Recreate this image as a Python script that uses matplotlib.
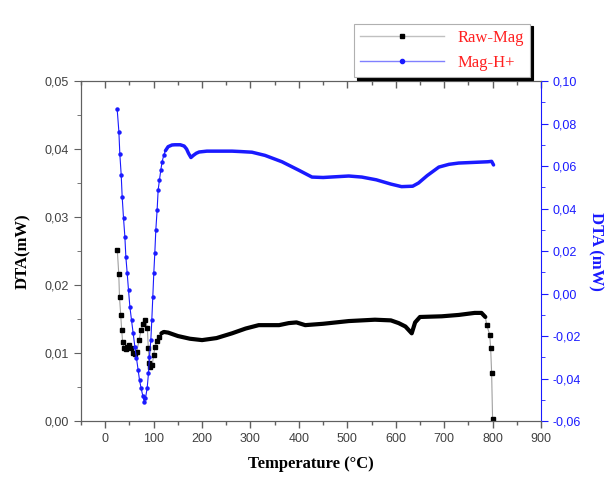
import numpy as np
import matplotlib.pyplot as plt
from matplotlib.lines import Line2D
from matplotlib.ticker import MultipleLocator, FuncFormatter

# Raw-Mag (eje izquierdo)
t_raw = [25, 28, 29.5, 32, 34, 36, 39, 43, 46, 49, 53, 57, 61, 65, 70, 74, 78, 83, 87,
         89, 91, 93, 97, 100, 103, 107, 111, 116, 121, 130, 150, 175, 200, 230, 262,
         290, 317, 359, 379, 395, 413, 450, 503, 557, 590, 606, 620, 633, 640, 650,
         695, 730, 763, 777, 785, 788, 794, 796, 798, 800]
dta_raw = [0.0251, 0.0216, 0.0182, 0.0156, 0.0134, 0.0116, 0.0107, 0.0106, 0.0109,
           0.0112, 0.0108, 0.0100, 0.0099, 0.0102, 0.0119, 0.0134, 0.0143, 0.0149,
           0.0137, 0.0107, 0.0085, 0.0079, 0.0082, 0.0097, 0.0109, 0.0118, 0.0124,
           0.0129, 0.0131, 0.0130, 0.0125, 0.0121, 0.0119, 0.0122, 0.0129, 0.0136,
           0.0141, 0.0141, 0.0144, 0.0145, 0.0141, 0.0143, 0.0147, 0.0149, 0.0148,
           0.0144, 0.0139, 0.0129, 0.0145, 0.0153, 0.0154, 0.0156, 0.0159, 0.0159,
           0.0153, 0.0141, 0.0127, 0.0107, 0.0071, 0.0003]

# Mag-H+ (eje derecho)
t_mag = [24.7, 28.2, 30.2, 33, 35, 37.8, 40.6, 42.6, 45.4, 48.1, 50.9, 54.3, 57.7,
         61.2, 64.6, 68, 70.8, 74.2, 77.7, 80.4, 83.1, 86.6, 89.3, 91.4, 94.2, 96.2,
         98.3, 100.3, 102.4, 104.5, 107.2, 109.3, 112, 114.8, 117.5, 121, 124.4,
         129.9, 138, 144, 155, 163, 168, 172, 177, 182, 188, 194, 210, 230, 262,
         280, 303, 330, 365, 400, 427, 450, 480, 503, 530, 560, 590, 612, 635, 647,
         665, 689, 710, 730, 760, 790, 798, 802]
dta_mag = [0.0867, 0.0762, 0.0656, 0.0558, 0.0456, 0.0354, 0.0267, 0.0173, 0.0095,
           0.0016, -0.0062, -0.0125, -0.0187, -0.0250, -0.0305, -0.0360, -0.0407,
           -0.0446, -0.0482, -0.0509, -0.0493, -0.0446, -0.0376, -0.0297, -0.0219,
           -0.0125, -0.0015, 0.0095, 0.0189, 0.0299, 0.0393, 0.0487, 0.0534, 0.0581,
           0.0620, 0.0652, 0.0672, 0.0691, 0.0699, 0.0700, 0.0700, 0.0694, 0.0680,
           0.0660, 0.0640, 0.0650, 0.0660, 0.0666, 0.0670, 0.0670, 0.0670, 0.0668,
           0.0665, 0.0650, 0.0620, 0.0580, 0.0548, 0.0546, 0.0550, 0.0553, 0.0548,
           0.0535, 0.0515, 0.0503, 0.0505, 0.0520, 0.0555, 0.0595, 0.0608, 0.0614,
           0.0617, 0.0620, 0.0622, 0.0605]

t_raw = np.array(t_raw)
dta_raw = np.array(dta_raw)
t_mag = np.array(t_mag)
dta_mag = np.array(dta_mag)

frame = '#606060'
blue = '#1a1aff'


def comma(v, pos):
    return f"{v:.2f}".replace('.', ',')


fig = plt.figure(figsize=(6.1, 4.78), dpi=100)
ax = fig.add_axes([0.1328, 0.1192, 0.7541, 0.7113])
ax2 = ax.twinx()

# Raw-Mag: puntos sueltos en las zonas rapidas, trazo grueso en la zona densa
m = (t_raw >= 114) & (t_raw <= 786)
ax.plot(t_raw, dta_raw, '-', color='#a0a0a0', lw=0.8, marker='s', ms=3.2,
        mfc='black', mec='black', markevery=list(np.where(~m)[0]))
ax.plot(t_raw[m], dta_raw[m], '-', color='black', lw=3, solid_capstyle='round')

# Mag-H+
m2 = t_mag >= 124
ax2.plot(t_mag, dta_mag, '-', color=blue, lw=0.8, marker='o', ms=2.2,
         mfc=blue, mec=blue, markevery=list(np.where(~m2)[0]))
ax2.plot(t_mag[m2], dta_mag[m2], '-', color=blue, lw=2.5, solid_capstyle='round')

ax.set_xlim(-50, 900)
ax.set_ylim(0, 0.05)
ax2.set_ylim(-0.06, 0.10)

ax.set_xticks(np.arange(0, 901, 100))
ax.xaxis.set_minor_locator(MultipleLocator(50))
ax.yaxis.set_major_locator(MultipleLocator(0.01))
ax.yaxis.set_minor_locator(MultipleLocator(0.005))
ax.yaxis.set_major_formatter(FuncFormatter(comma))
ax2.yaxis.set_major_locator(MultipleLocator(0.02))
ax2.yaxis.set_minor_locator(MultipleLocator(0.01))
ax2.yaxis.set_major_formatter(FuncFormatter(comma))

for s in ['left', 'bottom', 'top']:
    ax.spines[s].set_color(frame)
    ax2.spines[s].set_color(frame)
ax.spines['right'].set_visible(False)
ax2.spines['right'].set_color(blue)

# marcas: abajo hacia fuera, arriba hacia dentro (inout recortado por el borde)
ax.tick_params(axis='x', which='both', direction='out', color=frame,
               labelcolor='#404040', labelsize=9, top=True, labeltop=False)
ax.tick_params(axis='x', which='major', length=5, width=1)
ax.tick_params(axis='x', which='minor', length=3, width=1)
for t in ax.xaxis.get_major_ticks() + ax.xaxis.get_minor_ticks():
    t.tick2line.set_marker(3)  # TICKDOWN: hacia dentro en el borde superior

ax.tick_params(axis='y', which='both', direction='out', color=frame,
               labelcolor='#404040', labelsize=9)
ax.tick_params(axis='y', which='major', length=5)
ax.tick_params(axis='y', which='minor', length=3)
ax2.tick_params(axis='y', which='both', direction='out', color=blue,
                labelcolor=blue, labelsize=9)
ax2.tick_params(axis='y', which='major', length=5)
ax2.tick_params(axis='y', which='minor', length=3)

for lab in ax.get_xticklabels() + ax.get_yticklabels() + ax2.get_yticklabels():
    lab.set_family('Liberation Sans')

ax.set_xlabel('Temperature (°C)', family='Liberation Serif', fontweight='bold',
              fontsize=12, labelpad=8)
ax.set_ylabel('DTA(mW)', family='Liberation Serif', fontweight='bold',
              fontsize=12, labelpad=10)
ax2.set_ylabel('DTA (mW)', family='Liberation Serif', fontweight='bold',
               fontsize=12, color=blue, rotation=270, labelpad=16)

handles = [
    Line2D([], [], color='#c0c0c0', lw=1, marker='s', ms=3, mfc='black', mec='black'),
    Line2D([], [], color='#8080ff', lw=1, marker='o', ms=3, mfc=blue, mec=blue),
]
leg = fig.legend(handles, ['Raw-Mag', 'Mag-H+'], loc='upper right',
                 bbox_to_anchor=(0.883, 0.968), frameon=True,
                 shadow={'color': 'black', 'alpha': 1},
                 fancybox=False, handlelength=5, borderpad=0.4,
                 prop={'family': 'Liberation Serif', 'size': 12},
                 labelcolor='#ff2020', edgecolor='#b0b0b0', framealpha=1)
leg.get_frame().set_linewidth(0.8)

fig.savefig('out.png', dpi=100)
